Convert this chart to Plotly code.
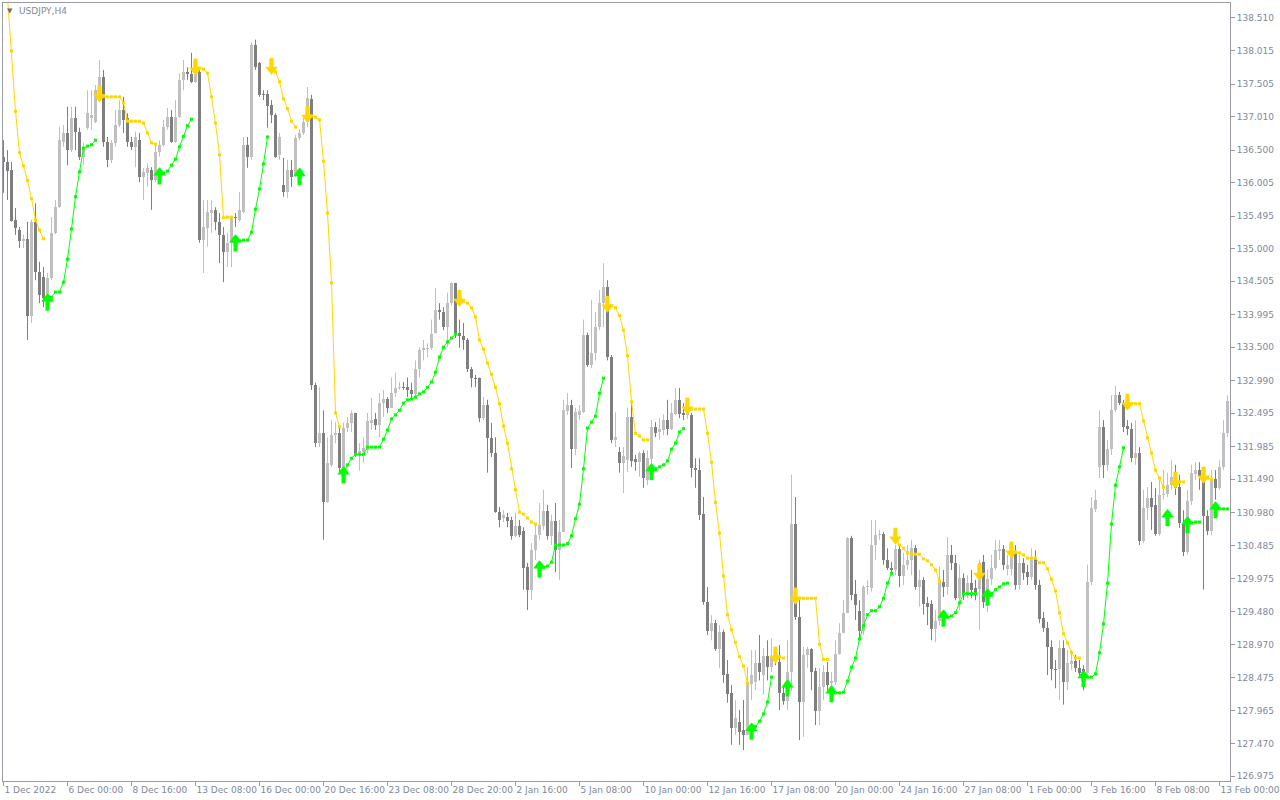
import plotly.graph_objects as go

# ---------------- data (USDJPY, H4) ----------------
tick_bars = [0, 16, 32, 48, 64, 80, 96, 112, 128, 144, 160, 176, 192, 208, 224, 240, 256, 272, 288, 304]
tick_labels = ["1 Dec 2022", "6 Dec 00:00", "8 Dec 16:00", "13 Dec 08:00", "16 Dec 00:00",
               "20 Dec 16:00", "23 Dec 08:00", "28 Dec 20:00", "2 Jan 16:00", "5 Jan 08:00",
               "10 Jan 00:00", "12 Jan 16:00", "17 Jan 08:00", "20 Jan 00:00", "24 Jan 16:00",
               "27 Jan 08:00", "1 Feb 00:00", "3 Feb 16:00", "8 Feb 08:00", "13 Feb 00:00"]
price_ticks = [138.510, 138.015, 137.505, 137.010, 136.500, 136.005, 135.495, 135.000,
               134.505, 133.995, 133.500, 132.990, 132.495, 131.985, 131.490, 130.980,
               130.485, 129.975, 129.480, 128.970, 128.475, 127.965, 127.470, 126.975]

open_ = [136.40,136.32,136.20,135.44,135.28,135.12,135.15,133.98,135.41,134.64,134.57,134.26,134.55,135.24,135.63,136.62,136.76,136.50,136.99,136.78,
136.40,136.84,136.99,136.93,137.41,137.61,136.62,136.35,136.61,136.88,137.11,136.99,136.62,136.55,136.65,136.09,136.15,136.20,136.05,136.47,
136.58,136.85,137.00,136.62,137.00,137.57,137.69,137.66,137.54,137.69,135.13,135.31,135.54,135.59,135.41,135.21,134.95,135.09,135.48,135.44,
135.56,136.58,136.40,138.10,137.83,137.35,137.35,137.19,137.03,136.43,135.97,135.86,136.20,136.12,136.68,136.76,136.93,137.28,132.93,132.04,
132.20,131.14,131.71,132.16,132.20,131.66,132.27,132.35,132.50,131.89,131.91,131.93,132.35,132.41,132.32,132.65,132.71,132.58,132.80,132.88,
132.89,132.89,132.85,132.79,133.17,133.46,133.47,133.49,133.71,134.07,134.04,133.81,134.17,134.48,133.71,133.67,133.61,133.17,133.03,133.03,
132.42,132.62,132.12,131.89,130.99,130.90,130.92,130.87,130.63,130.78,130.70,130.15,129.81,130.41,130.64,130.78,131.01,130.63,130.85,130.41,
130.69,132.53,132.62,131.95,132.47,132.51,133.69,133.23,133.41,133.81,134.17,134.42,133.35,132.09,131.91,131.74,131.78,132.44,131.80,131.75,
131.89,131.48,131.80,132.28,132.21,132.24,132.39,132.26,132.48,132.70,132.50,132.47,132.47,131.66,131.63,130.96,129.62,129.18,129.30,128.91,
129.16,128.53,128.24,127.71,127.80,127.67,127.60,128.38,128.41,128.69,128.51,128.80,128.63,128.79,128.71,128.24,128.12,128.56,130.81,129.39,
128.10,128.82,128.91,128.57,127.96,128.33,128.56,128.39,128.41,128.83,129.15,129.46,130.60,129.74,129.49,129.18,129.85,129.84,130.49,130.64,
130.66,130.26,130.14,130.11,130.43,130.02,130.19,130.26,130.44,129.85,129.96,129.61,129.59,129.21,129.34,129.93,129.85,130.34,130.22,129.68,
129.99,129.76,129.91,129.84,129.82,130.23,129.62,129.97,130.14,130.40,130.43,130.13,130.13,130.37,129.88,130.22,130.08,130.00,130.28,129.88,
129.38,129.23,128.94,128.60,128.60,128.92,128.41,128.68,128.72,128.62,128.60,128.54,129.93,131.04,131.68,132.29,131.71,131.95,132.54,132.77,
132.65,132.30,132.26,131.81,131.89,130.55,131.05,131.20,131.10,130.66,131.25,131.27,131.40,131.53,131.37,130.83,130.38,131.16,131.57,131.63,
131.54,130.93,130.70,131.49,131.36,131.68,132.20]

high = [136.65,136.50,136.32,135.62,135.33,135.21,135.41,135.44,135.69,134.80,134.72,134.63,135.48,135.74,136.85,136.88,137.16,137.16,137.16,136.84,
136.61,137.41,137.41,137.49,137.87,137.72,136.70,136.65,137.11,137.26,137.31,137.06,136.70,136.78,136.76,136.23,136.30,136.24,136.61,136.65,
136.96,137.14,137.11,137.26,137.67,137.87,137.76,137.98,137.84,137.76,135.74,135.74,135.74,135.63,135.54,135.33,135.24,135.48,135.54,135.86,
136.70,136.70,138.14,138.18,137.84,137.41,137.41,137.26,137.06,136.76,136.38,136.35,136.35,136.73,136.81,137.00,137.46,137.34,132.96,132.89,
132.54,132.13,132.39,132.36,132.27,132.35,132.44,132.54,132.50,132.04,132.13,132.50,132.73,132.50,132.80,132.85,132.74,133.04,133.11,132.97,
132.97,133.04,132.96,133.30,133.50,133.61,133.56,133.92,134.40,134.17,134.11,134.33,134.49,134.48,133.92,133.87,133.64,133.20,133.08,133.04,
132.74,132.70,132.35,132.13,131.07,131.02,130.98,130.92,130.98,130.87,130.76,130.22,130.52,130.82,131.13,131.33,131.10,130.95,131.13,130.87,
132.70,132.80,132.70,132.58,132.62,133.92,133.72,134.22,134.04,134.37,134.78,134.52,133.38,132.51,131.98,131.98,132.58,132.65,131.86,131.91,
131.93,131.93,132.39,132.36,132.42,132.48,132.70,132.65,132.88,132.88,132.65,132.62,132.50,131.81,131.81,131.22,129.85,129.42,129.35,129.27,
129.20,128.74,128.36,128.13,127.98,128.13,128.63,128.89,128.89,129.12,128.92,129.04,129.07,128.89,128.97,128.36,129.04,131.56,131.22,129.65,
128.94,128.94,128.92,128.62,128.62,128.66,128.71,128.56,129.04,129.30,129.65,130.61,130.63,129.96,129.65,129.88,129.96,130.87,130.87,130.72,
130.69,130.44,130.23,130.49,130.49,130.37,130.49,130.57,130.49,130.11,130.00,129.70,129.65,129.50,130.16,130.11,130.61,130.49,130.34,130.19,
130.06,130.03,130.11,129.96,130.26,130.34,130.11,130.34,130.57,130.57,130.49,130.34,130.41,130.49,130.34,130.29,130.19,130.44,130.41,129.96,
129.47,129.32,129.04,128.74,129.04,129.04,128.89,128.89,128.82,128.74,128.66,130.19,131.22,131.33,132.54,132.39,132.09,132.77,132.91,132.82,
132.70,132.39,132.35,132.39,131.98,131.33,131.37,131.45,131.36,131.48,131.63,131.59,131.78,131.71,131.56,131.02,131.33,131.71,131.75,131.75,
131.63,131.02,131.63,131.63,131.78,132.39,132.77]

low = [135.85,135.74,135.41,135.21,135.01,135.01,133.61,133.87,134.52,134.17,134.11,134.14,134.52,135.22,135.62,136.55,136.27,136.47,136.50,136.35,
136.27,136.81,136.81,136.91,137.37,136.55,136.24,136.30,136.55,136.85,136.76,136.55,136.50,136.24,136.01,135.74,135.94,135.59,136.01,136.40,
136.55,136.81,136.61,136.61,136.99,137.41,137.57,137.52,137.52,135.09,134.63,135.03,135.24,135.28,134.78,134.49,134.72,134.72,135.33,135.41,
135.54,136.23,136.35,137.72,137.31,137.26,136.84,136.91,136.38,136.35,135.79,135.77,135.94,136.09,136.65,136.73,136.85,132.85,131.98,131.98,
130.57,131.13,131.68,132.04,131.59,131.48,132.21,132.21,131.83,131.62,131.74,131.89,132.24,132.24,132.13,132.44,132.50,132.58,132.74,132.85,
132.85,132.74,132.73,132.74,133.04,133.30,133.35,133.46,133.71,133.92,133.76,133.50,134.14,133.64,133.49,133.46,133.12,132.89,132.89,132.36,
132.39,131.59,131.83,130.98,130.76,130.84,130.76,130.57,130.61,130.61,129.81,129.50,129.65,130.26,130.57,130.72,130.57,130.49,130.08,129.96,
130.69,132.47,131.66,131.86,132.39,132.50,133.20,133.18,133.30,133.76,133.81,133.30,132.04,131.98,131.59,131.28,131.60,131.68,131.62,131.53,
131.36,131.40,131.51,132.13,132.09,132.16,132.16,132.24,132.47,132.42,132.39,132.41,131.52,131.36,130.87,129.58,129.12,129.04,128.88,128.62,
128.39,128.09,127.45,127.60,127.45,127.37,127.60,128.13,128.28,128.43,128.21,128.43,128.56,128.66,127.98,128.06,127.98,128.27,129.35,127.52,
127.57,128.62,128.28,127.75,127.75,128.13,128.28,128.28,128.36,128.82,129.15,129.46,129.65,129.35,129.04,129.12,129.73,129.78,130.26,130.57,
130.19,130.11,130.03,130.03,129.85,129.88,130.11,130.03,129.81,129.55,129.43,129.27,129.04,129.01,129.27,129.70,129.73,130.11,129.65,129.50,
129.65,129.68,129.68,129.65,129.20,129.53,129.47,129.88,130.11,130.26,130.11,130.03,130.03,129.81,129.81,129.96,129.88,129.96,129.81,129.30,
129.17,128.51,128.43,128.31,128.13,128.06,128.28,128.59,128.56,128.50,128.28,128.48,129.88,130.99,131.51,131.51,131.62,131.86,132.51,132.62,
132.21,132.16,131.75,131.71,130.49,130.52,130.87,130.72,130.63,130.63,131.18,131.22,131.33,131.25,130.75,130.32,130.34,131.10,131.48,131.33,
129.81,130.64,130.64,131.18,131.33,131.63,132.13]

close = [136.32,136.18,135.42,135.31,135.12,135.15,133.98,135.41,134.64,134.29,134.25,134.55,135.24,135.63,136.65,136.76,136.50,136.99,136.78,136.40,
136.55,137.06,137.03,137.41,137.61,136.62,136.35,136.61,136.88,137.11,136.96,136.62,136.55,136.70,136.09,136.17,136.23,136.05,136.47,136.58,
136.85,137.00,136.62,137.00,137.57,137.69,137.66,137.54,137.75,135.13,135.33,135.56,135.59,135.41,135.21,134.95,135.09,135.47,135.47,135.59,
136.58,136.40,138.10,137.76,137.34,137.34,137.17,137.03,136.40,136.70,135.86,136.20,136.09,136.68,136.76,136.93,137.29,132.93,132.04,132.20,
131.14,131.74,132.16,132.20,131.66,132.27,132.35,132.50,131.89,131.92,131.96,132.38,132.39,132.32,132.65,132.71,132.58,132.80,132.88,132.89,
132.88,132.85,132.79,133.17,133.46,133.49,133.49,133.70,134.07,134.04,133.81,134.17,134.48,133.71,133.67,133.61,133.17,133.03,133.02,132.42,
132.62,132.12,131.89,130.99,130.87,130.95,130.85,130.63,130.78,130.64,130.14,129.81,130.41,130.64,130.79,131.01,130.63,130.85,130.41,130.69,
132.54,132.62,131.95,132.51,132.53,133.69,133.23,133.41,133.81,134.17,134.42,133.35,132.09,132.13,131.74,131.84,132.44,131.77,131.75,131.89,
131.51,131.81,132.28,132.19,132.26,132.39,132.26,132.50,132.70,132.48,132.47,132.50,131.66,131.63,130.95,129.62,129.18,129.30,128.91,129.16,
128.51,128.22,127.71,127.86,127.65,127.60,128.38,128.51,128.69,128.56,128.80,128.63,128.79,128.71,128.24,128.12,128.56,130.81,129.39,128.10,
128.82,128.91,128.56,127.96,128.33,128.56,128.36,128.42,128.83,129.15,129.46,130.60,129.73,129.58,129.18,129.85,129.87,130.49,130.64,130.66,
130.26,130.14,130.11,130.43,130.02,130.19,130.26,130.44,129.85,129.96,129.59,129.55,129.21,129.34,129.96,129.85,130.34,130.22,129.68,129.99,
129.76,129.91,129.81,129.78,130.22,129.62,129.97,130.14,130.41,130.43,130.19,130.19,130.31,129.88,130.22,130.06,130.00,130.31,129.88,129.36,
129.23,128.94,128.60,128.59,128.92,128.41,128.69,128.72,128.62,128.54,128.54,129.93,131.05,131.18,132.29,131.71,131.95,132.54,132.77,132.65,
132.29,132.26,131.81,131.89,130.55,131.05,131.20,131.07,130.66,131.25,131.27,131.40,131.53,131.36,130.83,130.38,131.16,131.59,131.63,131.54,
130.93,130.70,131.51,131.36,131.68,132.20,132.68]

# trailing-stop indicator: segments (first bar, values)
yellow_starts = [0, 24, 48, 67, 76, 114, 151, 171, 193, 198, 223, 244, 252, 281, 293, 300]
yellow_values = [
    [139.70, 138.86, 138.01, 137.09, 136.46, 136.26, 136.04, 135.76, 135.44, 135.28, 135.15],
    [137.34, 137.32, 137.31, 137.31, 137.31, 137.31, 137.22, 136.94, 136.94, 136.94, 136.94, 136.91, 136.76, 136.61, 136.59],
    [137.75, 137.75, 137.73, 137.67, 137.31, 136.91, 136.43, 135.47, 135.48, 135.48],
    [137.76, 137.69, 137.54, 137.28, 137.13, 136.94, 136.85],
    [137.03, 137.02, 137.00, 136.96, 136.33, 135.54, 134.48, 132.50, 132.29],
    [134.23, 134.20, 134.17, 134.10, 133.96, 133.61, 133.47, 133.26, 133.09, 132.89, 132.64, 132.30, 132.04, 131.65, 131.33, 130.99, 130.96, 130.90, 130.84, 130.81],
    [134.14, 134.13, 134.10, 133.98, 133.76, 133.37, 132.67, 132.19, 132.15, 132.09, 132.09],
    [132.59, 132.56, 132.56, 132.56, 132.56, 132.19, 131.75, 131.14, 130.67, 130.02, 129.43, 129.20, 129.01, 128.79, 128.65, 128.39],
    [128.80, 128.79, 128.77],
    [129.70, 129.68, 129.68, 129.68, 129.68, 129.68, 128.98, 128.75, 128.75],
    [130.61, 130.49, 130.44, 130.37, 130.35, 130.35, 130.35, 130.28, 130.25, 130.19, 130.11, 129.94],
    [130.06],
    [130.40, 130.38, 130.37, 130.34, 130.29, 130.29, 130.29, 130.22, 130.22, 130.13, 129.97, 129.79, 129.46, 129.14, 129.00, 128.85, 128.77, 128.77],
    [132.65, 132.64, 132.64, 132.64, 132.38, 132.12, 131.89, 131.63, 131.51, 131.37],
    [131.46, 131.45, 131.45],
    [131.54, 131.51, 131.49],
]
green_starts = [11, 39, 58, 74, 85, 134, 162, 187, 196, 207, 235, 246, 270, 291, 296, 303]
green_values = [
    [134.20, 134.26, 134.34, 134.34, 134.49, 134.84, 135.30, 135.79, 136.17, 136.53, 136.56, 136.58, 136.65],
    [136.12, 136.15, 136.18, 136.27, 136.36, 136.55, 136.71, 136.87, 136.97],
    [135.10, 135.12, 135.13, 135.13, 135.25, 135.60, 135.91, 136.29, 136.70],
    [136.11],
    [131.57, 131.71, 131.81, 131.87, 131.87, 131.87, 131.98, 131.98, 131.98, 131.98, 132.10, 132.24, 132.41, 132.47, 132.54,
     132.65, 132.70, 132.71, 132.74, 132.79, 132.82, 132.89, 132.97, 133.12, 133.35, 133.50, 133.58, 133.64, 133.70],
    [130.14, 130.15, 130.17, 130.23, 130.49, 130.49, 130.49, 130.51, 130.63, 130.89, 131.11, 131.65, 132.27, 132.36, 132.45, 132.80, 133.03],
    [131.62, 131.65, 131.68, 131.71, 131.77, 131.95, 132.04, 132.21, 132.26],
    [127.67, 127.73, 127.81, 127.92, 128.10, 128.48],
    [128.33],
    [128.24, 128.24, 128.24, 128.25, 128.42, 128.63, 128.77, 129.06, 129.26, 129.43, 129.49, 129.49, 129.55, 129.68, 129.91, 130.06],
    [129.39, 129.39, 129.41, 129.46, 129.61, 129.75, 129.75, 129.75, 129.75],
    [129.71, 129.75, 129.81, 129.85, 129.90, 129.91],
    [128.47, 128.48, 128.48, 128.53, 128.85, 129.29, 129.91, 130.81, 131.40, 131.68, 131.97],
    [130.92],
    [130.81, 130.83, 130.84, 130.84],
    [131.04, 131.04, 131.04, 131.04],
]
yellow_arrow_segments = list(range(1, len(yellow_starts)))   # first segment starts before the chart
green_arrow_segments = list(range(len(green_starts)))

# ---------------- styles ----------------
BULL = "#C0C0C0"
BEAR = "#7F7F7F"
GOLD = "#FFD700"
LIME = "#00FF00"
AXIS = "#9A9AA2"
TXT = "#808898"
FONT = "DejaVu Sans"

W, H = 1280, 800
ML, MR, MT, MB = 3, 50, 3, 19
Y_RANGE = [126.899, 138.738]
PPX = (Y_RANGE[1] - Y_RANGE[0]) / (H - MT - MB)   # price units per screen pixel

n = len(close)
idx = list(range(n))

def wick(sel):
    xs, ys = [], []
    for i in sel:
        xs += [i, i, None]
        ys += [low[i], high[i], None]
    return xs, ys

bull = [i for i in idx if close[i] >= open_[i]]
bear = [i for i in idx if close[i] < open_[i]]

fig = go.Figure()
for sel, col in ((bull, BULL), (bear, BEAR)):
    wx, wy = wick(sel)
    fig.add_trace(go.Scatter(x=wx, y=wy, mode="lines", line=dict(color=col, width=1),
                             hoverinfo="skip", showlegend=False))
for sel, col in ((bull, BULL), (bear, BEAR)):
    base = [min(open_[i], close[i]) for i in sel]
    hgt = [max(abs(close[i] - open_[i]), 0.012) for i in sel]
    fig.add_trace(go.Bar(x=sel, y=hgt, base=base, width=0.75,
                         marker=dict(color=col, line=dict(width=0)),
                         hoverinfo="skip", showlegend=False))

def build(starts, values):
    arr = [None] * n
    for s, vals in zip(starts, values):
        for j, v in enumerate(vals):
            if s + j < n:
                arr[s + j] = v
    return arr

for starts, values, col in ((yellow_starts, yellow_values, GOLD), (green_starts, green_values, LIME)):
    fig.add_trace(go.Scatter(x=idx, y=build(starts, values), mode="lines+markers",
                             line=dict(color=col, width=1),
                             marker=dict(symbol="square", size=3, color=col, line=dict(width=0)),
                             connectgaps=False, hoverinfo="skip", showlegend=False))

# signal arrows at the first point of each segment: wide head + thick shaft, arrow glyph on top
ya_x = [yellow_starts[k] for k in yellow_arrow_segments]
ya_y = [yellow_values[k][0] for k in yellow_arrow_segments]
ga_x = [green_starts[k] for k in green_arrow_segments]
ga_y = [green_values[k][0] for k in green_arrow_segments]

def arrow(xs, ys, col, up):
    s = 1 if up else -1
    fig.add_trace(go.Scatter(x=xs, y=[v - s * 3.8 * PPX for v in ys], mode="markers",
                             marker=dict(symbol="line-ns", size=8, line=dict(color=col, width=4)),
                             hoverinfo="skip", showlegend=False))
    fig.add_trace(go.Scatter(x=xs, y=[v + s * 2.2 * PPX for v in ys], mode="markers",
                             marker=dict(symbol="triangle-up" if up else "triangle-down", size=11,
                                         color=col, line=dict(width=0)),
                             hoverinfo="skip", showlegend=False))
    fig.add_trace(go.Scatter(x=xs, y=ys, mode="text", text=["\u2B06" if up else "\u2B07"] * len(xs),
                             textposition="middle center",
                             textfont=dict(color=col, size=15, family=FONT),
                             hoverinfo="skip", showlegend=False))

arrow(ya_x, ya_y, GOLD, False)
arrow(ga_x, ga_y, LIME, True)

fig.update_layout(
    width=W, height=H,
    margin=dict(l=ML, r=MR, t=MT, b=MB, pad=0, autoexpand=False),
    paper_bgcolor="white", plot_bgcolor="white",
    barmode="overlay", bargap=0,
    font=dict(family=FONT, size=9, color=TXT),
    showlegend=False,
    xaxis=dict(range=[-0.125, n - 0.375], showgrid=False, zeroline=False,
               showline=True, mirror=True, linecolor=AXIS, linewidth=1,
               ticks="outside", ticklen=4, tickcolor=AXIS, tickwidth=1,
               tickmode="array", tickvals=tick_bars, ticktext=tick_labels,
               ticklabelposition="outside right", tickangle=0, automargin=False,
               tickfont=dict(family=FONT, size=9, color=TXT), fixedrange=True),
    yaxis=dict(range=Y_RANGE, side="right", showgrid=False, zeroline=False,
               showline=True, mirror=True, linecolor=AXIS, linewidth=1,
               ticks="outside", ticklen=4, tickcolor=AXIS, tickwidth=1,
               tickmode="array", tickvals=price_ticks, automargin=False,
               ticktext=["%.3f" % v for v in price_ticks],
               tickfont=dict(family=FONT, size=9, color=TXT), fixedrange=True),
    annotations=[
        dict(text="USDJPY,H4", xref="paper", yref="paper", x=0, y=1, xanchor="left", yanchor="top",
             xshift=14, yshift=-1, showarrow=False, font=dict(family=FONT, size=9, color=TXT)),
        dict(text="\u25BC", xref="paper", yref="paper", x=0, y=1, xanchor="left", yanchor="top",
             xshift=2, yshift=-2, showarrow=False, font=dict(family=FONT, size=7, color="#6E6E6E")),
    ],
)

fig.write_html("out.html", config={"displayModeBar": False, "staticPlot": True},
               post_script="document.body.style.margin='0';document.body.style.overflow='hidden';")
